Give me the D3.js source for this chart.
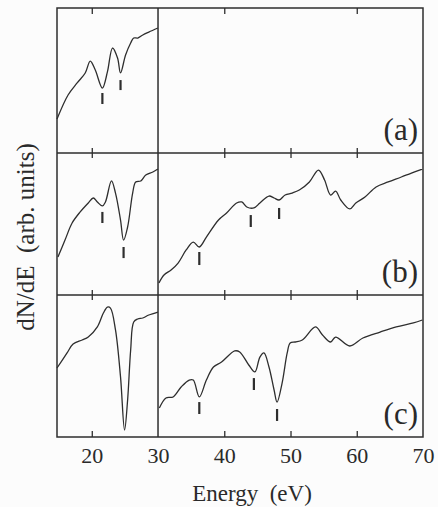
<html>
<body style="margin:0;background:#fcfcfc">
<div id="chart"></div>
<script src="https://d3js.org/d3.v7.min.js"></script>
<script>
// energy (eV) vs dN/dE (arb. units); values are % of panel height
var aLeft = [[14.75,23.4],[16.42,40],[17.79,48.3],[19.01,55.2],[19.77,63.4],[20.53,57.2],[21.6,44.8],
  [22.36,55.9],[23.13,72.4],[23.89,65.5],[24.34,55.2],[25.1,67.6],[25.87,75.9],[26.33,79.3],
  [26.94,79.3],[27.7,81.4],[28.61,83.4],[29.98,86.2]];

var bLeft = [[14.89,26.8],[15.96,38.7],[17.03,50.7],[18.25,58.5],[19.47,64.8],[20.23,68.3],[20.84,65.5],
  [21.6,62.7],[22.06,65.5],[22.97,80.3],[23.58,71.8],[24.34,52.8],[24.8,38.7],[25.41,47.9],
  [26.17,71.8],[26.63,79.6],[27.39,80.3],[28.15,84.5],[29.22,86.6],[29.98,88.7]];

var bRight = [[30.14,8.5],[30.9,14.1],[31.97,17.6],[33.03,22.5],[34.25,31.7],[35.32,37.3],[36.23,33.8],
  [37.3,40.8],[39.13,52.8],[40.35,57.7],[41.87,64.8],[42.64,65.5],[43.4,62],[44.47,61.3],
  [45.38,64.8],[46.75,69.7],[47.52,68.3],[48.28,66.9],[49.19,70.4],[50.26,71.8],[51.33,73.9],
  [52.85,79.6],[54.22,88],[55.14,81],[56.05,70.4],[56.81,73.2],[57.58,66.9],[58.95,60.6],
  [59.86,64.8],[61.24,69],[62.92,76.1],[64.75,79.6],[66.73,83.1],[68.25,85.9],[69.9,88.7]];

var cLeft = [[14.75,48.6],[16.27,59.2],[17.18,65.5],[18.55,68.3],[19.47,70.4],[20.84,77.5],[21.75,87.3],
  [22.36,91.5],[22.82,90.8],[23.58,75.4],[24.34,42.3],[24.95,4.9],[25.41,26.1],[25.87,61.3],
  [26.33,81],[26.94,83.1],[27.7,83.8],[28.61,85.9],[29.98,88]];

var cRight = [[30.2,20.4],[31.2,27.5],[32.27,28.2],[33.49,35.2],[34.71,40.1],[35.32,40.1],[36.23,28.2],
  [37.3,40.1],[38.37,49.3],[39.59,52.8],[41.57,60.6],[42.33,59.9],[43.7,50.7],[44.62,45.8],
  [45.38,56.3],[45.99,59.2],[46.75,49.3],[47.52,33.1],[47.97,24.6],[48.73,38],[49.5,59.2],
  [49.95,66.2],[50.72,66.9],[51.78,68.3],[53.77,77.5],[54.83,71.8],[56.05,66.9],[56.81,70.4],
  [58.95,64.1],[60.93,69.7],[63.52,73.9],[65.96,77.5],[68.55,80.3],[69.9,82.4]];

// small vertical markers: [energy, low, high]
var aMarks = [[21.6,33.8,41.4],[24.34,43.4,50.3]];
var bMarks = [[21.6,50.7,58.5],[24.8,26,33.8],[36.23,21.1,30.3],[44.0,47.9,56.3],[48.28,53.5,61.3]];
var cMarks = [[36.23,16.2,24.6],[44.47,33.1,41.5],[47.97,11.3,19.7]];

var energyLabels = [20,30,40,50,60,70];
var innerTicks = [20,40,50,60];
var topTicks = [20,40,60];
var panelNames = ["(a)","(b)","(c)"];

var plotLeft = 57, plotRight = 423, plotTop = 8;
var panelBottoms = [153, 295, 437];
var fontCss = "font-family:'Liberation Serif','Times New Roman',serif;fill:#2a2a2a;";

var svg = d3.select("#chart").append("svg")
  .attr("width", 438).attr("height", 507);

var x = d3.scaleLinear().domain([14.75, 70]).range([plotLeft, plotRight]);

var panels = [
  {segs: [aLeft], marks: aMarks},
  {segs: [bLeft, bRight], marks: bMarks},
  {segs: [cLeft, cRight], marks: cMarks}
];

var ink = "#2e2e2e";

panels.forEach(function(p, i) {
  var y0 = i == 0 ? plotTop : panelBottoms[i-1];
  var y1 = panelBottoms[i];
  var y = d3.scaleLinear().domain([0, 100]).range([y1, y0]);
  var line = d3.line().curve(d3.curveCatmullRom.alpha(0.5)).x(d => x(d[0])).y(d => y(d[1]));

  p.segs.forEach(function(s) {
    svg.append("path").datum(s)
      .attr("d", line)
      .attr("fill", "none")
      .attr("stroke", ink)
      .attr("stroke-width", 1.3)
      .attr("stroke-linejoin", "round");
  });

  svg.selectAll(null).data(p.marks).enter().append("line")
    .attr("x1", d => x(d[0])).attr("x2", d => x(d[0]))
    .attr("y1", d => y(d[1])).attr("y2", d => y(d[2]))
    .attr("stroke", ink).attr("stroke-width", 2.2);

  svg.append("text")
    .attr("x", 418).attr("y", y1 - 13)
    .attr("text-anchor", "end")
    .attr("style", fontCss + "font-size:31px")
    .text(panelNames[i]);
});

// tick marks
function ticks(axis, yPos, vals, size) {
  var g = svg.append("g")
    .attr("transform", "translate(0," + yPos + ")")
    .call(axis(x).tickValues(vals).tickSize(size).tickFormat(""));
  g.select(".domain").remove();
  g.selectAll(".tick line").attr("stroke", ink).attr("stroke-width", 1.3);
}
ticks(d3.axisBottom, plotTop, topTicks, 6);
ticks(d3.axisBottom, panelBottoms[0], innerTicks, 5);
ticks(d3.axisTop, panelBottoms[0], innerTicks, 5);
ticks(d3.axisBottom, panelBottoms[1], innerTicks, 5);
ticks(d3.axisTop, panelBottoms[1], innerTicks, 5);
ticks(d3.axisTop, panelBottoms[2], innerTicks, 6);

// frame and dividers
svg.append("rect")
  .attr("x", plotLeft).attr("y", plotTop)
  .attr("width", plotRight - plotLeft).attr("height", panelBottoms[2] - plotTop)
  .attr("fill", "none").attr("stroke", ink).attr("stroke-width", 1.5);
svg.append("line")
  .attr("x1", x(30)).attr("x2", x(30)).attr("y1", plotTop).attr("y2", panelBottoms[2])
  .attr("stroke", ink).attr("stroke-width", 1.5);
[panelBottoms[0], panelBottoms[1]].forEach(function(yy) {
  svg.append("line")
    .attr("x1", plotLeft).attr("x2", plotRight).attr("y1", yy).attr("y2", yy)
    .attr("stroke", ink).attr("stroke-width", 1.5);
});

// energy labels
var xAxis = svg.append("g")
  .attr("transform", "translate(0," + panelBottoms[2] + ")")
  .call(d3.axisBottom(x).tickValues(energyLabels).tickSize(0).tickPadding(10));
xAxis.select(".domain").remove();
xAxis.attr("font-family", null).attr("font-size", null);
xAxis.selectAll("text").attr("style", fontCss + "font-size:22px");

svg.append("text")
  .attr("x", 252).attr("y", 501)
  .attr("text-anchor", "middle")
  .attr("style", fontCss + "font-size:23px;white-space:pre")
  .text("Energy  (eV)");

svg.append("text")
  .attr("transform", "translate(34,237) rotate(-90)")
  .attr("text-anchor", "middle")
  .attr("style", fontCss + "font-size:25px;white-space:pre")
  .text("dN/dE  (arb. units)");
</script>
</body>
</html>
